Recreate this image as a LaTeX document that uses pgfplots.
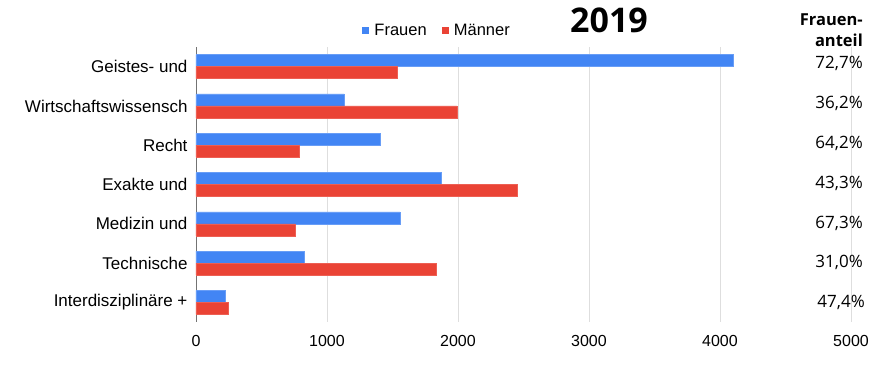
\documentclass[border=0pt]{standalone}
\usepackage{pgfplots}
\pgfplotsset{compat=1.18}
\usepackage{fontspec}
\setmainfont{Liberation Sans}
\newfontfamily\osans{Open Sans}
\definecolor{fblue}{HTML}{4285F4}
\definecolor{mred}{HTML}{EA4335}
\begin{document}
\begin{tikzpicture}[x=1pt,y=1pt]
\path (0,0) rectangle (873,373);
\begin{axis}[
  at={(196pt,51pt)}, anchor=south west,
  width=655pt, height=275pt, scale only axis,
  xbar, bar width=12pt,
  xmin=0, xmax=5000, ymin=-0.5, ymax=6.5, y dir=reverse,
  ytick={0,...,6},
  yticklabels={Geistes- und, Wirtschaftswissensch, Recht, Exakte und, Medizin und, Technische, Interdisziplinäre +},
  xtick={0,1000,...,5000},
  scaled ticks=false,
  /pgf/number format/assume math mode=true,
  /pgf/number format/set thousands separator={},
  xmajorgrids, grid style={black!13, line width=0.8pt},
  axis x line*=bottom, axis y line*=left,
  x axis line style={draw=none},
  y axis line style={black!55, line width=0.9pt},
  major tick length=0pt,
  ticklabel style={font=\fontsize{16}{16}\selectfont},
  yticklabel style={font=\fontsize{17}{17}\selectfont, xshift=-5pt},
  xticklabel style={yshift=-10pt},
  clip=false,
  legend style={at={(0.368,1)}, anchor=south, yshift=6pt, draw=none, fill=none,
    legend columns=2, font=\fontsize{16.5}{16.5}\selectfont,
    /tikz/every even column/.append style={column sep=13pt}},
  legend image code/.code={\fill[#1,draw=none] (0pt,-3.5pt) rectangle (7pt,3.5pt); \path (10pt,0pt);},
]
\addplot[fill=fblue, draw=fblue!80, bar shift=6pt] coordinates {
 (4100,0) (1130,1) (1405,2) (1870,3) (1557,4) (824,5) (221,6)};
\addplot[fill=mred, draw=mred!85, bar shift=-6pt] coordinates {
 (1538,0) (1992,1) (786,2) (2450,3) (756,4) (1832,5) (245,6)};
\legend{Frauen, Männer}
\end{axis}
\node[font=\osans\bfseries\fontsize{34}{34}\selectfont] at (609,353) {2019};
\begin{scope}[every node/.style={anchor=east, font=\osans\fontsize{17}{17}\selectfont, inner sep=0pt}]
\node[font=\osans\bfseries\fontsize{16.5}{16.5}\selectfont] at (863,353) {Frauen-};
\node[font=\osans\bfseries\fontsize{16.5}{16.5}\selectfont] at (863,333) {anteil};
\node at (863,310) {72,7\%};
\node at (863,270) {36,2\%};
\node at (863,230) {64,2\%};
\node at (863,190) {43,3\%};
\node at (863,150) {67,3\%};
\node at (863,111) {31,0\%};
\node at (865,71) {47,4\%};
\end{scope}
\end{tikzpicture}
\end{document}
